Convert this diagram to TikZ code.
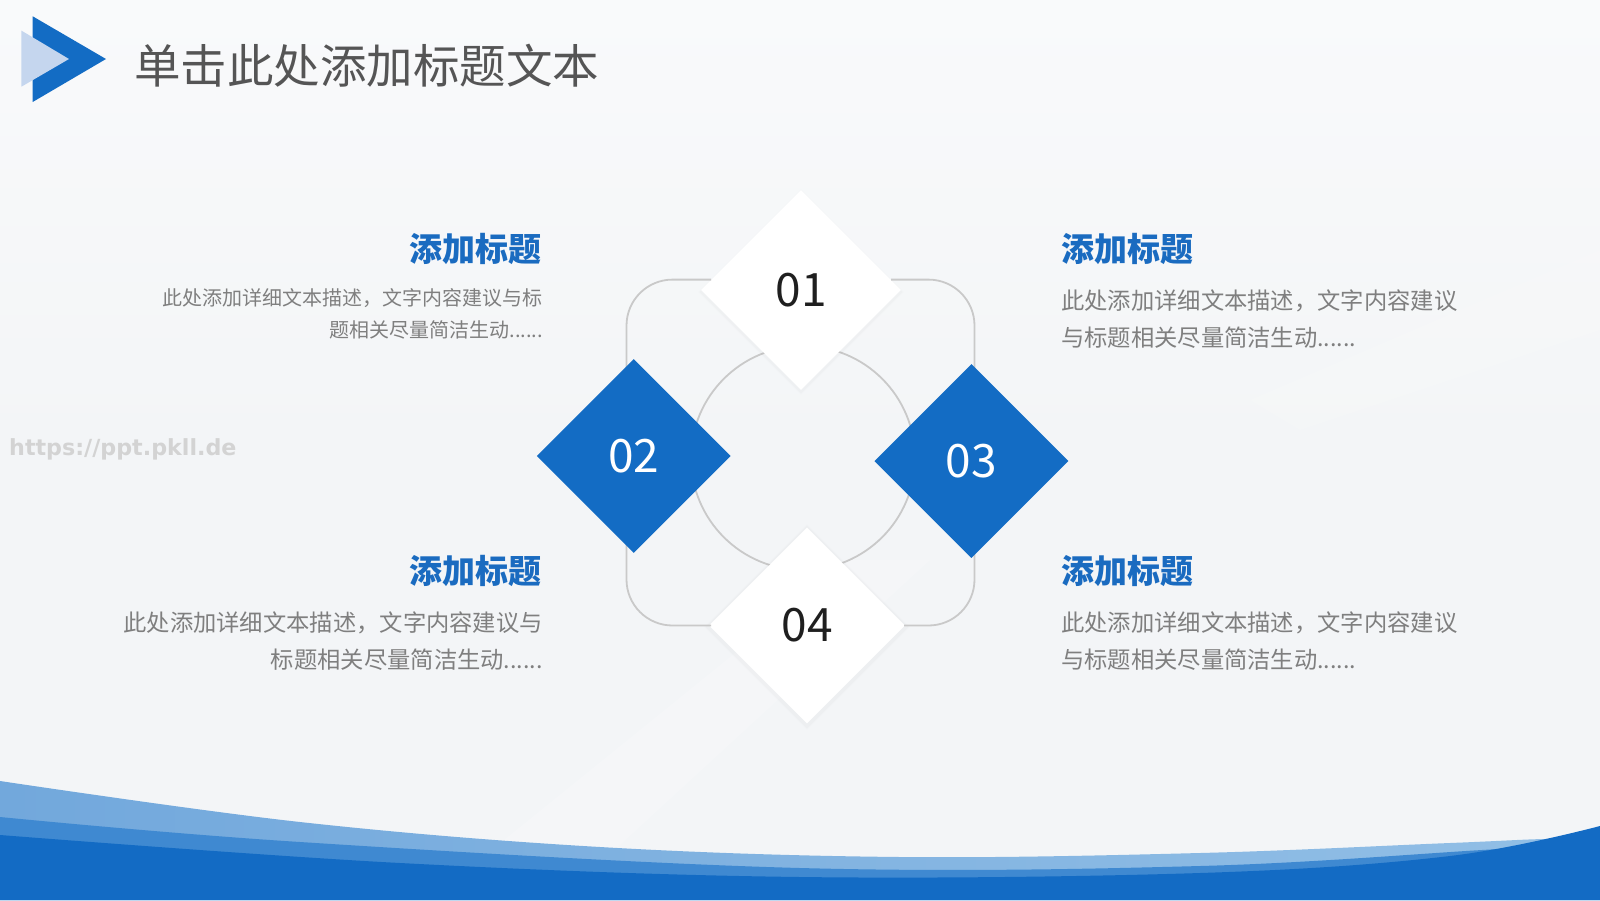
\documentclass[tikz,border=0pt]{standalone}
\usepackage{fontspec}
\setmainfont{Noto Sans CJK SC}
\newfontfamily\wmfont{DejaVu Sans}
\usetikzlibrary{shapes.geometric}
\definecolor{bg}{HTML}{F3F5F7}
\definecolor{bgtop}{HTML}{F9FAFB}
\definecolor{mainblue}{HTML}{136CC4}
\definecolor{headblue}{HTML}{1A6BC0}
\definecolor{lightblue}{HTML}{C5D6EE}
\definecolor{titlegray}{HTML}{555555}
\definecolor{bodygray}{HTML}{7F7F7F}
\definecolor{linegray}{HTML}{C9C9C9}
\definecolor{wmgray}{HTML}{D3D3D3}
\definecolor{bandlightL}{HTML}{72A8DC}
\definecolor{bandlightR}{HTML}{92BFE6}
\definecolor{bandmid}{HTML}{3F89D1}
\definecolor{banddark}{HTML}{136BC4}
\begin{document}
\begin{tikzpicture}[x=1pt,y=-1pt,
  wdia/.style={diamond, aspect=1, inner sep=0pt, fill=white},
  bdia/.style={diamond, aspect=1, inner sep=0pt, fill=mainblue},
  shadowdia/.style={diamond, aspect=1, inner sep=0pt, fill=black, opacity=0.012},
  arcline/.style={draw=linegray, line width=1.8pt},
  head/.style={font=\fontsize{33}{40}\selectfont\bfseries, text=headblue, inner sep=0pt},
  bodyA/.style={font=\fontsize{20}{24}\selectfont, text=bodygray, inner sep=0pt},
  bodyB/.style={font=\fontsize{23.3}{28}\selectfont, text=bodygray, inner sep=0pt},
  num/.style={font=\fontsize{46}{50}\selectfont, inner sep=0pt}]
\useasboundingbox (0,0) rectangle (1600,900);
% background
\shade[top color=bgtop, bottom color=bg] (0,0) rectangle (1600,450);
\fill[bg] (0,450) rectangle (1600,900);
\fill[white, opacity=0.18] (430,900) -- (560,900) -- (930,560) -- (850,560) -- cycle;
\fill[white, opacity=0.12] (1250,400) -- (1600,250) -- (1600,330) -- (1300,430) -- cycle;
% bottom waves
\shade[left color=bandlightL, right color=bandlightR]
  plot[smooth, tension=0.6] coordinates {(0,781) (300,822) (600,847) (900,857) (1200,853) (1450,843) (1560,839) (1600,846)}
  -- (1600,900) -- (0,900) -- cycle;
\fill[bandmid]
  plot[smooth, tension=0.6] coordinates {(0,817) (300,842) (800,868) (1200,866) (1500,849) (1600,846)}
  -- (1600,900) -- (0,900) -- cycle;
\fill[banddark]
  plot[smooth, tension=0.6] coordinates {(0,835) (400,863) (800,877) (1200,873) (1450,856) (1600,826)}
  -- (1600,900) -- (0,900) -- cycle;
% logo
\fill[mainblue] (32.7,16.3) -- (106,59) -- (32.7,102) -- cycle;
\fill[lightblue] (21.4,30.6) -- (69,59) -- (21.4,86.7) -- cycle;
% title
\node[anchor=west, inner sep=0pt, text=titlegray, font=\fontsize{46.5}{52}\selectfont] (title) at (134,66) {单击此处添加标题文本};
% watermark
\node[anchor=west, inner sep=0pt, text=wmgray, font=\wmfont\bfseries\fontsize{22.2}{26}\selectfont] (wm) at (9,449) {https://ppt.pkll.de};
% central circle
\coordinate (cc) at (803,458);
\draw[arcline] (cc) circle (112pt);
% white diamonds with faint shadow
\foreach \s in {206,203} {
  \node[shadowdia, minimum width=\s pt, minimum height=\s pt] at (801,292) {};
  \node[shadowdia, minimum width=\s pt, minimum height=\s pt] at (807,627) {};
}
\node[wdia, minimum width=200pt, minimum height=200pt] (d1) at (801,290) {};
\node[wdia, minimum width=196pt, minimum height=196pt] (d4) at (807,625.5) {};
% rounded connectors
\coordinate (tl) at (711,279.6);
\coordinate (tr) at (891,279.6);
\coordinate (bl) at (711,625.5);
\coordinate (br) at (904,625.5);
\draw[arcline, rounded corners=46pt] (tl) -- (626.5,279.6) -- (626.5,385);
\draw[arcline, rounded corners=46pt] (tr) -- (974.5,279.6) -- (974.5,385);
\draw[arcline, rounded corners=46pt] (626.5,530) -- (626.5,625.5) -- (bl);
\draw[arcline, rounded corners=46pt] (974.5,535) -- (974.5,625.5) -- (br);
% blue diamonds
\node[bdia, minimum width=194pt, minimum height=194pt] (d2) at (633.7,456) {};
\node[bdia, minimum width=194pt, minimum height=194pt] (d3) at (971.4,461) {};
% numbers
\node[num, text=black!88] (n1) at (d1.center) {01};
\node[num, text=white] (n2) at (d2.center) {02};
\node[num, text=white] (n3) at (d3.center) {03};
\node[num, text=black!88] (n4) at (d4.center) {04};
% text blocks left
\node[head, anchor=east] (h1) at (542,249) {添加标题};
\node[bodyA, anchor=east] (b1a) at (543,298) {此处添加详细文本描述，文字内容建议与标};
\node[bodyA, anchor=east] (b1b) at (543,329.6) {题相关尽量简洁生动......};
\node[head, anchor=east] (h2) at (542,571.4) {添加标题};
\node[bodyB, anchor=east] (b2a) at (543,622.4) {此处添加详细文本描述，文字内容建议与};
\node[bodyB, anchor=east] (b2b) at (543,659.2) {标题相关尽量简洁生动......};
% text blocks right
\node[head, anchor=west] (h3) at (1061,249) {添加标题};
\node[bodyB, anchor=west] (b3a) at (1061,301) {此处添加详细文本描述，文字内容建议};
\node[bodyB, anchor=west] (b3b) at (1061,337.8) {与标题相关尽量简洁生动......};
\node[head, anchor=west] (h4) at (1061,571.4) {添加标题};
\node[bodyB, anchor=west] (b4a) at (1061,622.4) {此处添加详细文本描述，文字内容建议};
\node[bodyB, anchor=west] (b4b) at (1061,659.2) {与标题相关尽量简洁生动......};
\end{tikzpicture}
\end{document}
